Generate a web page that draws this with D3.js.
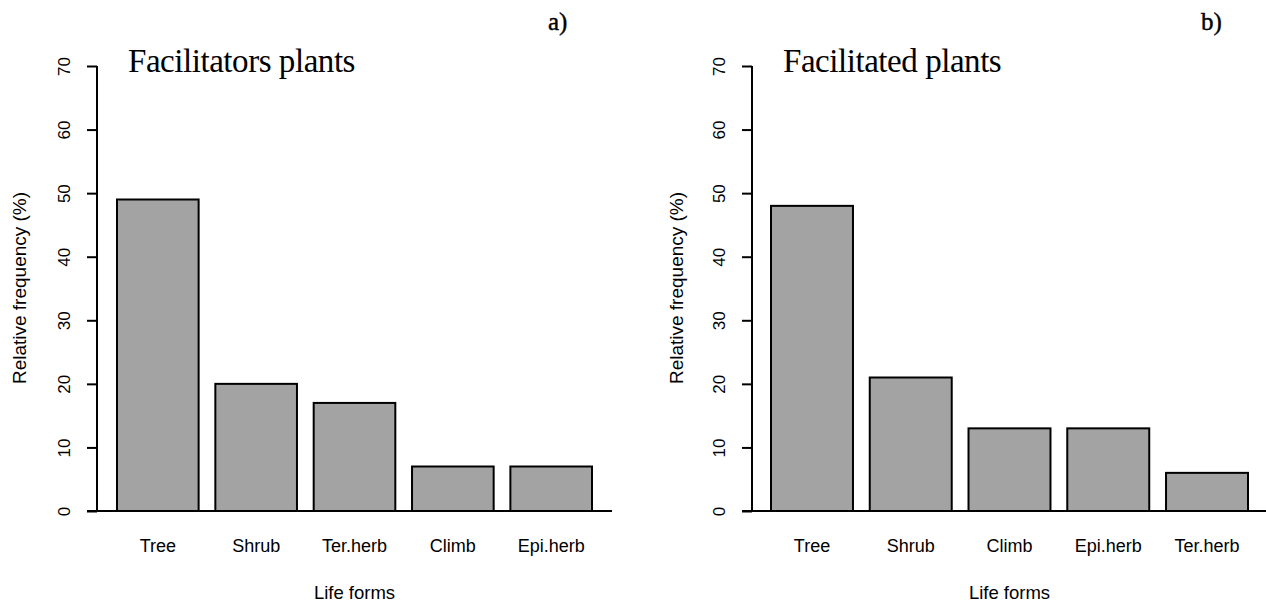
<!DOCTYPE html>
<html>
<head>
<meta charset="utf-8">
<script src="https://cdn.jsdelivr.net/npm/d3@7/dist/d3.min.js"></script>
<style>
  body { margin: 0; background: #fff; }
  svg { display: block; }
  .tick text { font-family: "Liberation Sans", Arial, sans-serif; }
</style>
</head>
<body>
<div id="chart"></div>
<script>
// data
var catsA = ['Tree', 'Shrub', 'Ter.herb', 'Climb', 'Epi.herb'];
var valsA = [49, 20, 17, 7, 7];
var catsB = ['Tree', 'Shrub', 'Climb', 'Epi.herb', 'Ter.herb'];
var valsB = [48, 21, 13, 13, 6];
var yTicks = [0, 10, 20, 30, 40, 50, 60, 70];

var width = 1266,
    height = 604;

var sans = '"Liberation Sans", Arial, sans-serif',
    serif = '"Liberation Serif", "Times New Roman", serif';

var svg = d3.select('#chart').append('svg').attr('width', width).attr('height', height);

// one panel = one barplot in R style
function panel(cfg) {
  var y = d3.scaleLinear().domain([0, 70]).range([511, 66]);
  var x = d3.scaleBand().domain(cfg.cats).range([cfg.x0, cfg.x1]).paddingInner(0.17).paddingOuter(0);

  var g = svg.append('g');

  // y axis (left, rotated labels like R)
  var yAxis = d3.axisLeft(y).tickValues(yTicks).tickSize(10);
  var ya = g.append('g').attr('transform', 'translate(' + cfg.axisX + ',0)').call(yAxis);
  ya.select('.domain').attr('d', 'M0,' + y(0) + 'V' + y(70)).attr('stroke-width', 2);
  ya.selectAll('.tick line').attr('stroke-width', 2);
  ya.selectAll('.tick text')
    .attr('font-size', 17)
    .attr('fill', '#000')
    .attr('text-anchor', 'middle')
    .attr('transform', 'rotate(-90,-33,0)')
    .attr('x', -33)
    .attr('y', 0)
    .attr('dy', '0.35em');

  // baseline
  g.append('line')
    .attr('x1', cfg.axisX - 10).attr('x2', cfg.lineEnd)
    .attr('y1', y(0)).attr('y2', y(0))
    .attr('stroke', '#000').attr('stroke-width', 2);

  // bars
  g.selectAll('rect').data(cfg.vals).enter().append('rect')
    .attr('x', function (d, i) { return x(cfg.cats[i]); })
    .attr('y', function (d) { return y(d); })
    .attr('width', x.bandwidth())
    .attr('height', function (d) { return y(0) - y(d); })
    .attr('fill', '#a3a3a3')
    .attr('stroke', '#000')
    .attr('stroke-width', 2);

  // category labels
  g.selectAll('.cat').data(cfg.cats).enter().append('text')
    .attr('class', 'cat')
    .attr('x', function (d) { return x(d) + x.bandwidth() / 2; })
    .attr('y', 552)
    .attr('text-anchor', 'middle')
    .attr('font-family', sans)
    .attr('font-size', 18)
    .text(function (d) { return d; });

  // x title
  g.append('text')
    .attr('x', (cfg.x0 + cfg.x1) / 2).attr('y', 599)
    .attr('text-anchor', 'middle')
    .attr('font-family', sans)
    .attr('font-size', 18.5)
    .text('Life forms');

  // y title
  g.append('text')
    .attr('transform', 'translate(' + cfg.yTitleX + ',288) rotate(-90)')
    .attr('text-anchor', 'middle')
    .attr('font-family', sans)
    .attr('font-size', 19)
    .text('Relative frequency (%)');

  // panel title
  g.append('text')
    .attr('x', cfg.titleX).attr('y', 72)
    .attr('font-family', serif)
    .attr('font-size', 33)
    .attr('letter-spacing', -0.45)
    .text(cfg.title);

  // panel letter
  g.append('text')
    .attr('x', cfg.letterX).attr('y', 30)
    .attr('font-family', serif)
    .attr('font-size', 25)
    .attr('stroke', '#000')
    .attr('stroke-width', 0.4)
    .text(cfg.letter);
}

panel({ cats: catsA, vals: valsA, x0: 117, x1: 592, axisX: 97, lineEnd: 612,
        yTitleX: 26, title: 'Facilitators plants', titleX: 128, letter: 'a)', letterX: 548 });
panel({ cats: catsB, vals: valsB, x0: 771, x1: 1248, axisX: 752, lineEnd: 1266,
        yTitleX: 683, title: 'Facilitated plants', titleX: 783, letter: 'b)', letterX: 1201 });
</script>
</body>
</html>
